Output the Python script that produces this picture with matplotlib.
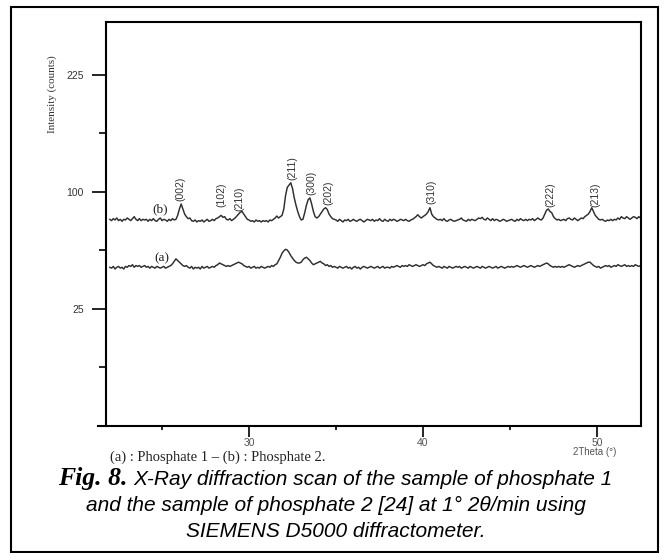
import matplotlib

matplotlib.use('Agg')
import matplotlib.pyplot as plt
from matplotlib.patches import Rectangle
import numpy as np

# scan: 22.0 .. 52.5 deg 2theta, 0.1 deg step
scan_start = 22.0
scan_step = 0.1

# (b) phosphate 2, counts
phosphate_2 = [
    78, 77, 78.5, 77.5, 79, 77, 78, 76.5, 78, 77.5,
    79, 78, 77, 78.5, 80, 78, 77, 78.5, 77, 78,
    77.5, 78, 76.5, 78, 77, 78.5, 77, 76.5, 78, 79,
    77, 78, 77.5, 76.5, 78, 77, 78.5, 77.5, 78, 81,
    86, 90, 86, 82, 80, 78.5, 79, 77, 76.5, 77.5,
    76, 77, 76.5, 77.5, 76, 77, 78, 76.5, 77, 78,
    77, 78.5, 79, 80, 81, 79.5, 80, 78, 77.5, 78.5,
    77, 78, 79, 80.5, 82, 83.5, 84, 82, 80, 78,
    77.5, 76.5, 77, 76, 77.5, 76.5, 77, 76, 77, 76.5,
    77, 76, 77.5, 77, 78, 79, 80.5, 79, 80, 81,
    86, 97, 104, 106, 108, 103, 95, 89, 84, 80,
    77.5, 78, 83, 89, 93.5, 95, 90, 84, 80, 79,
    80, 82, 84, 86, 87, 85.5, 82, 80, 78.5, 78,
    77.5, 76.5, 78, 77, 76, 77.5, 77, 78, 76.5, 77,
    78, 77, 76.5, 77.5, 78, 77, 76, 77, 78, 77.5,
    77, 78, 76.5, 77.5, 77, 78.5, 77, 76.5, 78, 77,
    76.5, 78, 77, 78, 77.5, 76.5, 77, 78, 77.5, 77,
    78, 77, 76.5, 77.5, 78, 79, 80, 81.5, 80, 79,
    80, 81, 82, 84, 87, 82, 80, 79, 78, 77.5,
    78, 77, 78.5, 77, 76.5, 77.5, 78, 77, 76.5, 77,
    77.5, 78, 79, 77.5, 77, 76.5, 78, 77, 78, 77.5,
    77, 78, 79, 78.5, 79.5, 78, 77.5, 79, 78, 77,
    78.5, 77, 78, 77.5, 76.5, 77, 78, 77.5, 76.5, 77,
    77.5, 78, 77, 76.5, 78, 77, 78.5, 77.5, 77, 78,
    77, 78, 77.5, 78.5, 77, 78, 79, 78, 77.5, 79,
    82, 85, 86, 84, 83, 80, 78.5, 77.5, 78, 77,
    77.5, 78, 77, 78.5, 79, 78, 77.5, 79, 78, 77,
    78, 79, 78.5, 80, 81, 82, 84, 87, 84, 81,
    79.5, 78, 77.5, 78, 77, 76.5, 77.5, 77, 78, 77,
    78, 77.5, 79, 78, 80, 79, 78.5, 80, 79, 78,
    79, 80, 79.5, 78.5, 80, 79,
]

# (a) phosphate 1
phosphate_1 = [
    46, 45.5, 46.5, 45, 46, 46.5, 45.5, 46, 45, 46.5,
    46, 47, 46.5, 47.5, 46, 47, 46.5, 47, 46, 46.5,
    47, 46, 46.5, 45.5, 46.5, 46, 45.5, 46.5, 46, 45.5,
    46, 46.5, 45.5, 46, 46.5, 47, 48, 49.5, 51, 50,
    49, 48, 47, 46.5, 47, 46, 45.5, 46.5, 45, 46,
    45.5, 46, 45, 46.5, 45.5, 46, 46.5, 45.5, 46, 46.5,
    46, 47, 47.5, 48.5, 48, 47.5, 47, 46.5, 47, 46.5,
    47, 47.5, 48, 48.5, 49, 48.5, 48, 47, 46.5, 46,
    46.5, 45.5, 46, 46.5, 45.5, 46, 45.5, 46.5, 46, 45.5,
    46, 46.5, 46, 47, 46.5, 47.5, 48, 50, 52, 54.5,
    56, 57, 56.5, 55, 53, 51.5, 50, 49, 48.5, 48.5,
    49, 50.5, 51.5, 52, 51, 50, 48.5, 47.5, 48, 48.5,
    49, 49.5, 48.5, 48, 47, 47.5, 46.5, 47, 46, 46.5,
    46, 45.5, 46.5, 46, 45.5, 46, 46.5, 45.5, 46, 45,
    46, 46.5, 45.5, 46, 45, 46, 46.5, 46, 45.5, 46,
    46.5, 46, 45.5, 46, 46.5, 45.5, 46, 46.5, 45.5, 46,
    46, 45.5, 46.5, 46, 46.5, 47, 46.5, 46, 47, 46.5,
    47, 46.5, 47.5, 47, 46.5, 47, 47.5, 47, 46.5, 47,
    47.5, 47, 48, 48.5, 49, 48, 47, 46.5, 46, 46.5,
    46, 45.5, 46.5, 46, 45.5, 46.5, 46, 45.5, 46, 46.5,
    46, 46.5, 45.5, 46, 46.5, 46, 45.5, 46.5, 46, 45.5,
    46, 46.5, 46, 45.5, 46.5, 46, 45.5, 46, 46.5, 46,
    45.5, 46, 46.5, 45.5, 46, 46.5, 46, 45.5, 46, 46.5,
    46, 46.5, 46, 46.5, 47, 46.5, 46, 46.5, 47, 46.5,
    46, 46.5, 47, 46.5, 46, 46.5, 47, 46.5, 47, 47.5,
    48, 48.5, 48, 47, 46.5, 46, 46.5, 46, 46.5, 46,
    46.5, 46, 46.5, 47, 47.5, 47, 46.5, 46, 46.5, 47,
    46.5, 47, 47.5, 48, 48.5, 49, 49, 48, 47, 46.5,
    46, 46.5, 45.5, 46, 46.5, 47, 46.5, 47, 46, 46.5,
    47, 46.5, 47.5, 47, 46.5, 47, 47.5, 46.5, 47, 46.5,
    47, 46.5, 47.5, 47, 46.5, 47,
]

hkl_labels = ['(002)', '(102)', '(210)', '(211)', '(300)', '(202)', '(310)', '(222)', '(213)']
hkl_x = [26.03, 28.39, 29.43, 32.47, 33.56, 34.54, 40.46, 47.30, 49.89]
hkl_y = [102.6, 97.5, 94.1, 121.6, 107.8, 99.2, 100.0, 97.5, 97.5]

y_major = [25, 100, 225]
y_minor = [6.25, 56.25, 156.25]
x_major = [30, 40, 50]
x_minor = [25, 35, 45]

W, H = 664, 553
fig = plt.figure(figsize=(W / 100, H / 100), dpi=100)
fig.patch.set_facecolor('white')

ax = fig.add_axes([98 / W, 1 - 426 / H, (641 - 98) / W, (426 - 22) / H])
ax.set_yscale('function', functions=(np.sqrt, np.square))

tt = scan_start + scan_step * np.arange(len(phosphate_2))
ax.plot(tt, phosphate_2, color='#2e2e2e', lw=1.05)
ax.plot(tt, phosphate_1, color='#2e2e2e', lw=1.05)

ax.set_xlim(21.32, 52.53)
ax.set_ylim(0, 298)

ax.spines['left'].set_position(('data', 21.78))
ax.spines['top'].set_bounds(21.78, 52.53)
for s in ax.spines.values():
    s.set_linewidth(1.5)
    s.set_color('black')

ax.set_yticks(y_major)
ax.set_yticks(y_minor, minor=True)
ax.set_xticks(x_major)
ax.set_xticks(x_minor, minor=True)
ax.tick_params(axis='both', which='major', direction='out', width=1.2, colors='black',
               labelsize=7.5, labelfontfamily='Liberation Sans')
ax.tick_params(axis='y', which='major', length=10, pad=6, labelcolor='#333333')
ax.tick_params(axis='y', which='minor', length=5, width=1.2)
ax.tick_params(axis='x', which='major', length=8, pad=0.5, labelcolor='#555555')
ax.tick_params(axis='x', which='minor', length=3, width=1.2)
ax.tick_params(right=False, top=False)

for lab, x, y in zip(hkl_labels, hkl_x, hkl_y):
    ax.text(x, y, lab, rotation=90, ha='center', va='center', fontsize=7.5,
            color='#333333', family=['Liberation Sans Narrow', 'Liberation Sans'])

ax.text(24.89, 86.0, '(b)', ha='center', va='center', fontsize=9.5,
        family='Liberation Serif', color='#222222')
ax.text(25.0, 51.5, '(a)', ha='center', va='center', fontsize=9.5,
        family='Liberation Serif', color='#222222')

fig.text(52 / W, 1 - 94 / H, 'Intensity (counts)', rotation=90, ha='center', va='center',
         fontsize=8, family='Liberation Serif', color='#333333')
fig.text(595 / W, 1 - 452 / H, '2Theta (\u00b0)', ha='center', va='center',
         fontsize=7, family='Liberation Sans', color='#555555')
fig.text(218 / W, 1 - 457 / H, '(a) : Phosphate 1 \u2013 (b) : Phosphate 2.', ha='center',
         va='center', fontsize=10.5, family='Liberation Serif', color='#222222')

# caption
t_fig = fig.text(0, 1 - 485 / H, 'Fig. 8.', fontsize=18.5, family='Liberation Serif',
                 style='italic', weight='bold', va='baseline')
t_rest = fig.text(0, 1 - 485 / H, 'X-Ray diffraction scan of the sample of phosphate 1',
                  fontsize=15, family='Liberation Sans', style='italic', va='baseline')
fig.text(336 / W, 1 - 511 / H, 'and the sample of phosphate 2 [24] at 1\u00b0 2\u03b8/min using',
         fontsize=15, family='Liberation Sans', style='italic', va='baseline', ha='center')
fig.text(336 / W, 1 - 537 / H, 'SIEMENS D5000 diffractometer.',
         fontsize=15, family='Liberation Sans', style='italic', va='baseline', ha='center')

fig.canvas.draw()
r = fig.canvas.get_renderer()
w1 = t_fig.get_window_extent(r).width
w2 = t_rest.get_window_extent(r).width
gap = 6
x0 = 335 - (w1 + gap + w2) / 2
t_fig.set_x(x0 / W)
t_rest.set_x((x0 + w1 + gap) / W)

fig.patches.append(Rectangle((11 / W, 1 - 552 / H), (658 - 11) / W, (552 - 7) / H,
                             transform=fig.transFigure, fill=False, lw=1.5,
                             edgecolor='black'))

fig.savefig('out.png', dpi=100)
